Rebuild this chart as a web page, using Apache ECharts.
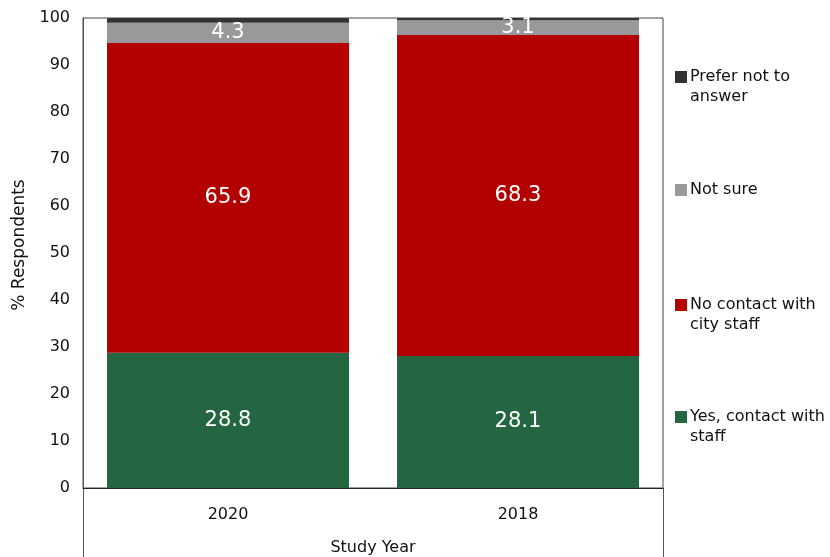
<!DOCTYPE html>
<html>
<head>
<meta charset="utf-8">
<script src="https://cdn.jsdelivr.net/npm/echarts@6/dist/echarts.min.js"></script>
<style>html,body{margin:0;padding:0;background:#fff}#chart{width:830px;height:557px}</style>
</head>
<body>
<div id="chart"></div>
<script>
// Contact with city staff, share of respondents by study year
const years = ['2020', '2018'];
const yesContact = [28.8, 28.1];
const noContact = [65.9, 68.3];
const notSure = [4.3, 3.1];
const preferNot = [1.0, 0.5];
const yTicks = [0, 10, 20, 30, 40, 50, 60, 70, 80, 90, 100];

const seriesDefs = [
  { name: 'Yes, contact with\nstaff', data: yesContact, color: '#236641', label: true, legendTop: 407, twoLines: true },
  { name: 'No contact with\ncity staff', data: noContact, color: '#B30000', label: true, legendTop: 295, twoLines: true },
  { name: 'Not sure', data: notSure, color: '#999999', label: true, legendTop: 180, twoLines: false },
  { name: 'Prefer not to\nanswer', data: preferNot, color: '#333333', label: false, legendTop: 67, twoLines: true }
];

const font = 'DejaVu Sans';
// Square swatch pinned to the first text line of a two-line legend entry
const topSquareIcon = 'path://M0,0h12v12h-12z M0,32h0.01v0.01h-0.01z';

const chart = echarts.init(document.getElementById('chart'));

chart.setOption({
  animation: false,
  textStyle: { fontFamily: font },
  grid: { left: 83, right: 167, top: 18, bottom: 69, show: true, borderColor: '#444', borderWidth: 1, outerBoundsMode: 'none', containLabel: false },
  legend: seriesDefs.map(s => ({
    data: [s.name],
    left: 675,
    top: s.legendTop,
    padding: 0,
    orient: 'vertical',
    itemWidth: 12,
    itemHeight: s.twoLines ? 32 : 12,
    itemGap: 0,
    icon: s.twoLines ? topSquareIcon : 'rect',
    selectedMode: false,
    textStyle: { fontFamily: font, fontSize: 16, color: '#111', lineHeight: 20, padding: [0, 0, 0, -2] }
  })),
  xAxis: {
    type: 'category',
    data: years,
    name: 'Study Year',
    nameLocation: 'middle',
    nameGap: 52,
    nameTextStyle: { fontSize: 16, color: '#111' },
    axisLine: { lineStyle: { color: '#222' } },
    axisTick: { show: false },
    axisLabel: { fontSize: 16, color: '#111', margin: 19 }
  },
  yAxis: {
    type: 'value',
    min: 0,
    max: 100,
    interval: 10,
    name: '% Respondents',
    nameLocation: 'middle',
    nameGap: 54,
    nameTextStyle: { fontSize: 17, color: '#111', padding: [0, 0, 0, 16] },
    axisLine: { show: true, lineStyle: { color: '#555' } },
    axisTick: { show: false },
    splitLine: { show: false },
    axisLabel: { fontSize: 16, color: '#111', margin: 13,
      formatter: v => yTicks.includes(v) ? String(v) : '' }
  },
  series: seriesDefs.map(s => ({
    type: 'bar',
    name: s.name,
    stack: 'total',
    data: s.data,
    barWidth: 242,
    itemStyle: { color: s.color },
    label: {
      show: s.label,
      position: 'inside',
      color: '#fff',
      fontSize: 21,
      fontFamily: font,
      formatter: p => p.value.toFixed(1)
    }
  })),
  graphic: [
    { type: 'line', shape: { x1: 83.5, y1: 488, x2: 83.5, y2: 557 }, style: { stroke: '#555', lineWidth: 1 } },
    { type: 'line', shape: { x1: 663.5, y1: 488, x2: 663.5, y2: 557 }, style: { stroke: '#555', lineWidth: 1 } }
  ]
});
</script>
</body>
</html>
